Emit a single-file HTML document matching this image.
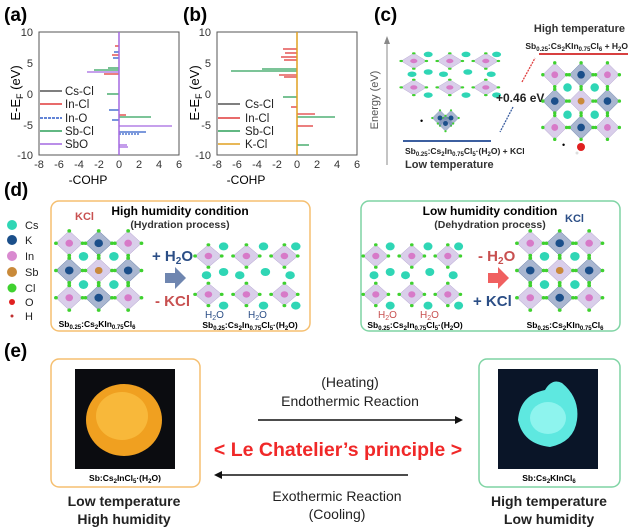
<!DOCTYPE html>
<html><head><meta charset="utf-8"><style>
body{margin:0;background:#fff}
svg{display:block;font-family:"Liberation Sans",Arial,sans-serif}
</style></head><body>
<svg width="635" height="529" viewBox="0 0 635 529" xmlns="http://www.w3.org/2000/svg">
<defs>
<g id="oct">
<polygon points="0,-14 14,0 0,14 -14,0" fill="#b9a6d8" fill-opacity="0.55" stroke="#a898c8" stroke-width="0.5"/>
<circle cx="0" cy="-14" r="2" fill="#3fd12f"/><circle cx="14" cy="0" r="2" fill="#3fd12f"/>
<circle cx="0" cy="14" r="2" fill="#3fd12f"/><circle cx="-14" cy="0" r="2" fill="#3fd12f"/>
<circle cx="0" cy="0" r="4" fill="#d77ac8"/>
</g>
<g id="octb">
<polygon points="0,-14 14,0 0,14 -14,0" fill="#6f86b0" fill-opacity="0.6" stroke="#5670a0" stroke-width="0.5"/>
<circle cx="0" cy="-14" r="2" fill="#3fd12f"/><circle cx="14" cy="0" r="2" fill="#3fd12f"/>
<circle cx="0" cy="14" r="2" fill="#3fd12f"/><circle cx="-14" cy="0" r="2" fill="#3fd12f"/>
<circle cx="0" cy="0" r="4.5" fill="#1b4f8a"/>
</g>
<g id="dense">
<use href="#oct" x="15" y="15"/><use href="#octb" x="46" y="15"/><use href="#oct" x="77" y="15"/>
<use href="#octb" x="15" y="46"/><use href="#oct" x="46" y="46"/><use href="#octb" x="77" y="46"/>
<use href="#oct" x="15" y="77"/><use href="#octb" x="46" y="77"/><use href="#oct" x="77" y="77"/>
<circle cx="30" cy="30" r="5" fill="#2fd6b5"/><circle cx="62" cy="30" r="5" fill="#2fd6b5"/>
<circle cx="30" cy="62" r="5" fill="#2fd6b5"/><circle cx="62" cy="62" r="5" fill="#2fd6b5"/>
<circle cx="46" cy="46" r="4" fill="#c98a3a"/>
</g>
<g id="hyd">
<use href="#oct" x="12" y="20"/><use href="#oct" x="52" y="20"/><use href="#oct" x="92" y="20"/>
<use href="#oct" x="12" y="68"/><use href="#oct" x="52" y="68"/><use href="#oct" x="92" y="68"/>
<circle cx="28" cy="8" r="5" fill="#2fd6b5"/><circle cx="70" cy="8" r="5" fill="#2fd6b5"/><circle cx="104" cy="8" r="5" fill="#2fd6b5"/>
<circle cx="28" cy="40" r="5" fill="#2fd6b5"/><circle cx="45" cy="44" r="5" fill="#2fd6b5"/><circle cx="72" cy="40" r="5" fill="#2fd6b5"/><circle cx="98" cy="44" r="5" fill="#2fd6b5"/>
<circle cx="10" cy="44" r="5" fill="#2fd6b5"/>
<circle cx="28" cy="82" r="5" fill="#2fd6b5"/><circle cx="70" cy="82" r="5" fill="#2fd6b5"/><circle cx="104" cy="82" r="5" fill="#2fd6b5"/>
</g>
</defs>

<!-- (a) -->
<text x="4" y="21" font-size="19" font-weight="bold">(a)</text>
<rect x="39" y="32" width="140" height="123" fill="none" stroke="#555" stroke-width="1"/>
<g font-size="11" fill="#333">
<text x="33" y="36" text-anchor="end">10</text><text x="33" y="67" text-anchor="end">5</text>
<text x="33" y="98" text-anchor="end">0</text><text x="33" y="129" text-anchor="end">-5</text><text x="33" y="159" text-anchor="end">-10</text>
<text x="39" y="168" text-anchor="middle">-8</text><text x="59" y="168" text-anchor="middle">-6</text><text x="79" y="168" text-anchor="middle">-4</text>
<text x="99" y="168" text-anchor="middle">-2</text><text x="119" y="168" text-anchor="middle">0</text><text x="139" y="168" text-anchor="middle">2</text>
<text x="159" y="168" text-anchor="middle">4</text><text x="179" y="168" text-anchor="middle">6</text>
</g>
<text x="88" y="184" font-size="12" text-anchor="middle">-COHP</text>
<text transform="translate(20,93) rotate(-90)" font-size="13" text-anchor="middle">E-E<tspan font-size="9" dy="3">F</tspan><tspan dy="-3"> (eV)</tspan></text>
<g stroke-width="1.3">
<line x1="119" y1="72" x2="87" y2="72" stroke="#a368e0"/>
<line x1="119" y1="70" x2="94" y2="70" stroke="#2fa05a"/>
<line x1="119" y1="74" x2="104" y2="74" stroke="#e03a3a"/>
<line x1="119" y1="68" x2="108" y2="68" stroke="#2fa05a"/>
<line x1="119" y1="55" x2="112" y2="55" stroke="#e03a3a"/>
<line x1="119" y1="58" x2="113" y2="58" stroke="#2e5cc8"/>
<line x1="119" y1="52" x2="114" y2="52" stroke="#2e5cc8"/>
<line x1="119" y1="46" x2="115" y2="46" stroke="#e03a3a"/>
<line x1="119" y1="94" x2="107" y2="94" stroke="#2fa05a"/>
<line x1="119" y1="110" x2="109" y2="110" stroke="#2e5cc8"/>
<line x1="119" y1="115" x2="126" y2="115" stroke="#e03a3a"/>
<line x1="119" y1="117" x2="151" y2="117" stroke="#2fa05a"/>
<line x1="119" y1="120" x2="112" y2="120" stroke="#2e5cc8"/>
<line x1="119" y1="126" x2="172" y2="126" stroke="#a368e0"/>
<line x1="119" y1="132" x2="146" y2="132" stroke="#2e5cc8"/>
<line x1="119" y1="134" x2="140" y2="134" stroke="#2e5cc8" stroke-dasharray="2,1"/>
<line x1="119" y1="145" x2="127" y2="145" stroke="#a368e0"/>
<line x1="119" y1="147" x2="128" y2="147" stroke="#a368e0"/>
<line x1="119" y1="32" x2="119" y2="155" stroke="#a368e0" stroke-width="1.5"/>
</g>
<g font-size="11.5" fill="#222">
<line x1="40" y1="91" x2="62" y2="91" stroke="#555" stroke-width="1.5"/><text x="65" y="95">Cs-Cl</text>
<line x1="40" y1="104" x2="62" y2="104" stroke="#e03a3a" stroke-width="1.5"/><text x="65" y="108">In-Cl</text>
<line x1="40" y1="118" x2="62" y2="118" stroke="#2e5cc8" stroke-width="1.5" stroke-dasharray="3,1"/><text x="65" y="122">In-O</text>
<line x1="40" y1="131" x2="62" y2="131" stroke="#2fa05a" stroke-width="1.5"/><text x="65" y="135">Sb-Cl</text>
<line x1="40" y1="144" x2="62" y2="144" stroke="#a368e0" stroke-width="1.5"/><text x="65" y="148">SbO</text>
</g>

<!-- (b) -->
<text x="183" y="21" font-size="19" font-weight="bold">(b)</text>
<rect x="217" y="32" width="140" height="123" fill="none" stroke="#555" stroke-width="1"/>
<g font-size="11" fill="#333">
<text x="211" y="36" text-anchor="end">10</text><text x="211" y="67" text-anchor="end">5</text>
<text x="211" y="98" text-anchor="end">0</text><text x="211" y="129" text-anchor="end">-5</text><text x="211" y="159" text-anchor="end">-10</text>
<text x="217" y="168" text-anchor="middle">-8</text><text x="237" y="168" text-anchor="middle">-6</text><text x="257" y="168" text-anchor="middle">-4</text>
<text x="277" y="168" text-anchor="middle">-2</text><text x="297" y="168" text-anchor="middle">0</text><text x="317" y="168" text-anchor="middle">2</text>
<text x="337" y="168" text-anchor="middle">4</text><text x="357" y="168" text-anchor="middle">6</text>
</g>
<text x="246" y="184" font-size="12" text-anchor="middle">-COHP</text>
<text transform="translate(199,93) rotate(-90)" font-size="13" text-anchor="middle">E-E<tspan font-size="9" dy="3">F</tspan><tspan dy="-3"> (eV)</tspan></text>
<g stroke-width="1.3">
<line x1="297" y1="71" x2="231" y2="71" stroke="#2fa05a"/>
<line x1="297" y1="69" x2="262" y2="69" stroke="#2fa05a"/>
<line x1="297" y1="75" x2="279" y2="75" stroke="#e03a3a"/>
<line x1="297" y1="77" x2="284" y2="77" stroke="#e03a3a"/>
<line x1="297" y1="49" x2="283" y2="49" stroke="#e03a3a"/>
<line x1="297" y1="53" x2="285" y2="53" stroke="#e03a3a"/>
<line x1="297" y1="57" x2="281" y2="57" stroke="#e03a3a"/>
<line x1="297" y1="60" x2="284" y2="60" stroke="#e03a3a"/>
<line x1="297" y1="97" x2="283" y2="97" stroke="#2fa05a"/>
<line x1="297" y1="107" x2="291" y2="107" stroke="#e03a3a"/>
<line x1="297" y1="114" x2="315" y2="114" stroke="#e03a3a"/>
<line x1="297" y1="117" x2="335" y2="117" stroke="#2fa05a"/>
<line x1="297" y1="126" x2="313" y2="126" stroke="#e03a3a"/>
<line x1="297" y1="145" x2="309" y2="145" stroke="#2fa05a"/>
<line x1="297" y1="32" x2="297" y2="155" stroke="#e0a020" stroke-width="1.5"/>
</g>
<g font-size="11.5" fill="#222">
<line x1="218" y1="104" x2="240" y2="104" stroke="#555" stroke-width="1.5"/><text x="245" y="108">Cs-Cl</text>
<line x1="218" y1="118" x2="240" y2="118" stroke="#e03a3a" stroke-width="1.5"/><text x="245" y="122">In-Cl</text>
<line x1="218" y1="131" x2="240" y2="131" stroke="#2fa05a" stroke-width="1.5"/><text x="245" y="135">Sb-Cl</text>
<line x1="218" y1="144" x2="240" y2="144" stroke="#e0a020" stroke-width="1.5"/><text x="245" y="148">K-Cl</text>
</g>

<!-- (c) -->
<text x="374" y="21" font-size="19" font-weight="bold">(c)</text>
<line x1="387" y1="165" x2="387" y2="42" stroke="#888" stroke-width="1"/>
<polygon points="384,44 390,44 387,36" fill="#888"/>
<text transform="translate(378,100) rotate(-90)" font-size="11" fill="#555" text-anchor="middle">Energy (eV)</text>
<use href="#hyd" transform="translate(403,50) scale(0.9,0.55)"/>
<g transform="translate(440,118) scale(0.55)"><use href="#octb" x="0" y="0"/><use href="#octb" x="20" y="0"/><use href="#octb" x="10" y="10"/></g>
<text x="420" y="124" font-size="9">•</text>
<line x1="403" y1="141" x2="491" y2="141" stroke="#3c5fa0" stroke-width="2"/>
<text x="405" y="154" font-size="8.5" font-weight="bold" fill="#222">Sb<tspan font-size="6" dy="2">0.25</tspan><tspan dy="-2">:Cs</tspan><tspan font-size="6" dy="2">2</tspan><tspan dy="-2">In</tspan><tspan font-size="6" dy="2">0.75</tspan><tspan dy="-2">Cl</tspan><tspan font-size="6" dy="2">5</tspan><tspan dy="-2">·(H</tspan><tspan font-size="6" dy="2">2</tspan><tspan dy="-2">O) + KCl</tspan></text>
<text x="405" y="168" font-size="11" font-weight="bold" fill="#333">Low temperature</text>
<line x1="513" y1="107" x2="500" y2="132" stroke="#3c5fa0" stroke-width="1.3" stroke-dasharray="2,1"/>
<line x1="522" y1="82" x2="535" y2="58" stroke="#e04040" stroke-width="1.3" stroke-dasharray="2,1"/>
<text x="496" y="102" font-size="12" font-weight="bold" fill="#222">+0.46 eV</text>
<text x="625" y="32" font-size="11" font-weight="bold" fill="#333" text-anchor="end">High temperature</text>
<text x="628" y="49" font-size="8.5" font-weight="bold" fill="#222" text-anchor="end">Sb<tspan font-size="6" dy="2">0.25</tspan><tspan dy="-2">:Cs</tspan><tspan font-size="6" dy="2">2</tspan><tspan dy="-2">KIn</tspan><tspan font-size="6" dy="2">0.75</tspan><tspan dy="-2">Cl</tspan><tspan font-size="6" dy="2">6</tspan><tspan dy="-2"> + H</tspan><tspan font-size="6" dy="2">2</tspan><tspan dy="-2">O</tspan></text>
<line x1="539" y1="54" x2="628" y2="54" stroke="#d84040" stroke-width="2"/>
<use href="#dense" transform="translate(542,62) scale(0.85)"/>
<circle cx="581" cy="147" r="4" fill="#e02020"/><circle cx="577" cy="153" r="1.5" fill="#ddd"/>
<text x="562" y="148" font-size="9">•</text>

<!-- (d) -->
<text x="4" y="196" font-size="19" font-weight="bold">(d)</text>
<g font-size="11" fill="#222">
<circle cx="12" cy="225" r="5" fill="#2fd6b5"/><text x="25" y="229">Cs</text>
<circle cx="12" cy="240" r="5" fill="#1b4f8a"/><text x="25" y="244">K</text>
<circle cx="12" cy="256" r="5" fill="#d98ad0"/><text x="25" y="260">In</text>
<circle cx="12" cy="272" r="5" fill="#c98a3a"/><text x="25" y="276">Sb</text>
<circle cx="12" cy="288" r="4.5" fill="#3fd12f"/><text x="25" y="292">Cl</text>
<circle cx="12" cy="302" r="3" fill="#e02020"/><text x="25" y="306">O</text>
<circle cx="12" cy="316" r="1.5" fill="#c03030"/><text x="25" y="320">H</text>
</g>
<rect x="51" y="201" width="259" height="130" rx="8" fill="none" stroke="#f5bf70" stroke-width="1.5"/>
<text x="180" y="215" font-size="12" font-weight="bold" text-anchor="middle">High humidity condition</text>
<text x="180" y="228" font-size="10.5" font-weight="bold" text-anchor="middle" fill="#333">(Hydration process)</text>
<text x="75" y="220" font-size="11" font-weight="bold" fill="#c85050">KCl</text>
<use href="#dense" transform="translate(55,230) scale(0.95,0.88)"/>
<text x="97" y="327" font-size="8.5" font-weight="bold" text-anchor="middle">Sb<tspan font-size="6" dy="2">0.25</tspan><tspan dy="-2">:Cs</tspan><tspan font-size="6" dy="2">2</tspan><tspan dy="-2">KIn</tspan><tspan font-size="6" dy="2">0.75</tspan><tspan dy="-2">Cl</tspan><tspan font-size="6" dy="2">6</tspan></text>
<text x="152" y="261" font-size="15" font-weight="bold" fill="#2b4e86">+ H<tspan font-size="10" dy="3">2</tspan><tspan dy="-3">O</tspan></text>
<polygon points="165,273 175,273 175,267 186,278 175,289 175,283 165,283" fill="#6f86b0"/>
<text x="155" y="306" font-size="15" font-weight="bold" fill="#c85050">- KCl</text>
<use href="#hyd" transform="translate(197,240) scale(0.95,0.8)"/>
<text x="205" y="318" font-size="10" fill="#2b4e86">H<tspan font-size="7" dy="2">2</tspan><tspan dy="-2">O</tspan></text>
<text x="248" y="318" font-size="10" fill="#2b4e86">H<tspan font-size="7" dy="2">2</tspan><tspan dy="-2">O</tspan></text>
<text x="250" y="328" font-size="8.5" font-weight="bold" text-anchor="middle">Sb<tspan font-size="6" dy="2">0.25</tspan><tspan dy="-2">:Cs</tspan><tspan font-size="6" dy="2">2</tspan><tspan dy="-2">In</tspan><tspan font-size="6" dy="2">0.75</tspan><tspan dy="-2">Cl</tspan><tspan font-size="6" dy="2">5</tspan><tspan dy="-2">·(H</tspan><tspan font-size="6" dy="2">2</tspan><tspan dy="-2">O)</tspan></text>

<rect x="361" y="201" width="259" height="130" rx="8" fill="none" stroke="#7fd4a4" stroke-width="1.5"/>
<text x="490" y="215" font-size="12" font-weight="bold" text-anchor="middle">Low humidity condition</text>
<text x="490" y="228" font-size="10.5" font-weight="bold" text-anchor="middle" fill="#333">(Dehydration process)</text>
<text x="565" y="222" font-size="11" font-weight="bold" fill="#2b4e86">KCl</text>
<use href="#hyd" transform="translate(365,240) scale(0.9,0.8)"/>
<text x="378" y="318" font-size="10" fill="#c85050">H<tspan font-size="7" dy="2">2</tspan><tspan dy="-2">O</tspan></text>
<text x="420" y="318" font-size="10" fill="#c85050">H<tspan font-size="7" dy="2">2</tspan><tspan dy="-2">O</tspan></text>
<text x="415" y="328" font-size="8.5" font-weight="bold" text-anchor="middle">Sb<tspan font-size="6" dy="2">0.25</tspan><tspan dy="-2">:Cs</tspan><tspan font-size="6" dy="2">2</tspan><tspan dy="-2">In</tspan><tspan font-size="6" dy="2">0.75</tspan><tspan dy="-2">Cl</tspan><tspan font-size="6" dy="2">5</tspan><tspan dy="-2">·(H</tspan><tspan font-size="6" dy="2">2</tspan><tspan dy="-2">O)</tspan></text>
<text x="478" y="261" font-size="15" font-weight="bold" fill="#c85050">- H<tspan font-size="10" dy="3">2</tspan><tspan dy="-3">O</tspan></text>
<polygon points="488,273 498,273 498,267 509,278 498,289 498,283 488,283" fill="#f06060"/>
<text x="473" y="306" font-size="15" font-weight="bold" fill="#2b4e86">+ KCl</text>
<use href="#dense" transform="translate(516,230) scale(0.95,0.88)"/>
<text x="565" y="328" font-size="8.5" font-weight="bold" text-anchor="middle">Sb<tspan font-size="6" dy="2">0.25</tspan><tspan dy="-2">:Cs</tspan><tspan font-size="6" dy="2">2</tspan><tspan dy="-2">KIn</tspan><tspan font-size="6" dy="2">0.75</tspan><tspan dy="-2">Cl</tspan><tspan font-size="6" dy="2">6</tspan></text>

<!-- (e) -->
<text x="4" y="357" font-size="19" font-weight="bold">(e)</text>
<rect x="51" y="359" width="149" height="128" rx="8" fill="none" stroke="#f5bf70" stroke-width="1.5"/>
<rect x="75" y="369" width="100" height="100" fill="#0b0c10"/>
<ellipse cx="124" cy="420" rx="38" ry="36" fill="#f0a020"/>
<ellipse cx="122" cy="416" rx="26" ry="24" fill="#f8b83a"/>
<text x="125" y="481" font-size="8.5" font-weight="bold" text-anchor="middle">Sb:Cs<tspan font-size="6" dy="2">2</tspan><tspan dy="-2">InCl</tspan><tspan font-size="6" dy="2">5</tspan><tspan dy="-2">·(H</tspan><tspan font-size="6" dy="2">2</tspan><tspan dy="-2">O)</tspan></text>
<rect x="479" y="359" width="141" height="128" rx="8" fill="none" stroke="#7fd4a4" stroke-width="1.5"/>
<rect x="498" y="369" width="100" height="100" fill="#0a1528"/>
<path d="M518,420 Q520,395 545,390 Q552,378 562,383 Q580,398 577,420 Q574,442 550,447 Q523,444 518,420 Z" fill="#5ee8e0"/>
<ellipse cx="548" cy="418" rx="18" ry="16" fill="#8ef4ee"/>
<text x="549" y="481" font-size="8.5" font-weight="bold" text-anchor="middle">Sb:Cs<tspan font-size="6" dy="2">2</tspan><tspan dy="-2">KInCl</tspan><tspan font-size="6" dy="2">6</tspan></text>
<text x="350" y="387" font-size="14" text-anchor="middle" fill="#222">(Heating)</text>
<text x="350" y="406" font-size="14" text-anchor="middle" fill="#222">Endothermic Reaction</text>
<line x1="258" y1="420" x2="455" y2="420" stroke="#111" stroke-width="1.5"/>
<polygon points="455,416 463,420 455,424" fill="#111"/>
<text x="338" y="456" font-size="19.5" font-weight="bold" text-anchor="middle" fill="#f02828">&lt; Le Chatelier’s principle &gt;</text>
<line x1="222" y1="475" x2="408" y2="475" stroke="#111" stroke-width="1.5"/>
<polygon points="222,471 214,475 222,479" fill="#111"/>
<text x="337" y="501" font-size="14" text-anchor="middle" fill="#222">Exothermic Reaction</text>
<text x="337" y="519" font-size="14" text-anchor="middle" fill="#222">(Cooling)</text>
<text x="124" y="506" font-size="14" font-weight="bold" text-anchor="middle" fill="#222">Low temperature</text>
<text x="124" y="524" font-size="14" font-weight="bold" text-anchor="middle" fill="#222">High humidity</text>
<text x="549" y="506" font-size="14" font-weight="bold" text-anchor="middle" fill="#222">High temperature</text>
<text x="549" y="524" font-size="14" font-weight="bold" text-anchor="middle" fill="#222">Low humidity</text>
</svg>
</body></html>
